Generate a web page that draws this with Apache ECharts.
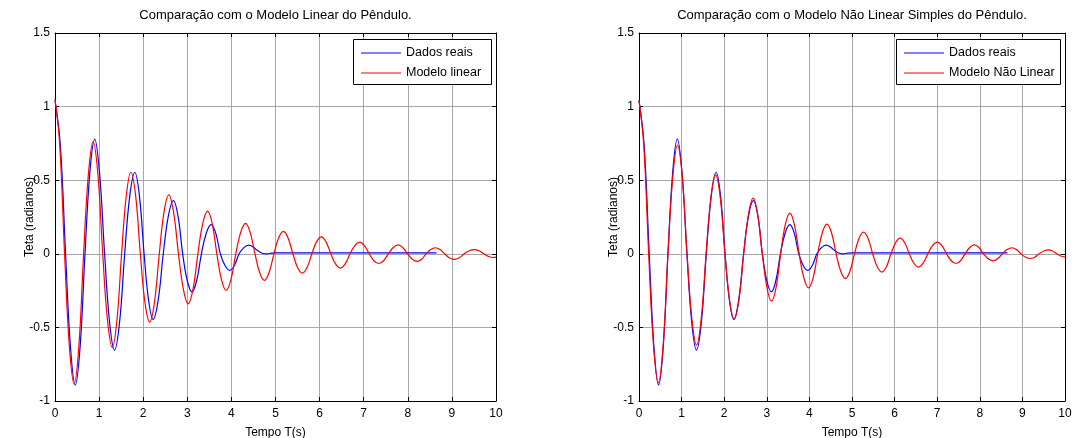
<!DOCTYPE html>
<html>
<head>
<meta charset="utf-8">
<script src="https://cdn.jsdelivr.net/npm/echarts@6/dist/echarts.min.js"></script>
<style>
html,body{margin:0;padding:0;background:#fff;}
#chart{width:1072px;height:438px;}
</style>
</head>
<body>
<div id="chart"></div>
<script>
// ---- Data ----
var xTicks = [0,1,2,3,4,5,6,7,8,9,10];
var yTicks = [-1,-0.5,0,0.5,1,1.5];

var tituloLinear = 'Comparação com o Modelo Linear do Pêndulo.';
var tituloNaoLinear = 'Comparação com o Modelo Não Linear Simples do Pêndulo.';
var nomeReal = 'Dados reais';
var nomeLinear = 'Modelo linear';
var nomeNaoLinear = 'Modelo Não Linear';
var rotuloX = 'Tempo T(s)';
var rotuloY = 'Teta (radianos)';

// Measured data (blue) - same in both panels
var tempoReal = [0,0.12,0.24,0.35,0.46,0.57,0.68,0.79,0.90,1.01,1.125,1.237,1.35,1.465,1.58,1.695,1.81,1.915,2.02,2.122,2.225,2.34,2.455,2.57,2.685,2.79,2.895,3.0,3.105,3.212,3.32,3.43,3.54,3.645,3.75,3.855,3.96,4.068,4.175,4.283,4.39,4.5,4.6,4.7,4.8,4.9,5.0,8.65];
var tetaReal  = [1.04,0.74,0,-0.63,-0.892,-0.63,0,0.55,0.779,0.55,0,-0.463,-0.655,-0.463,0,0.392,0.554,0.392,0,-0.315,-0.446,-0.315,0,0.256,0.362,0.256,0,-0.183,-0.259,-0.183,0,0.14,0.198,0.14,0,-0.08,-0.113,-0.08,0,0.042,0.059,0.045,0.02,0.004,0.0,0.004,0.006,0.006];

// Linear model (red, left panel)
var tempoLinear = [0,0.108,0.217,0.325,0.434,0.542,0.649,0.757,0.864,0.973,1.082,1.19,1.30,1.405,1.51,1.615,1.72,1.83,1.935,2.04,2.15,2.255,2.365,2.47,2.58,2.69,2.80,2.91,3.02,3.13,3.24,3.35,3.46,3.565,3.67,3.775,3.88,3.99,4.10,4.21,4.32,4.425,4.535,4.64,4.75,4.855,4.965,5.07,5.18,5.285,5.395,5.50,5.61,5.715,5.825,5.93,6.04,6.145,6.255,6.36,6.47,6.58,6.69,6.80,6.91,7.015,7.125,7.23,7.34,7.45,7.56,7.67,7.78,7.885,7.995,8.10,8.21,8.315,8.415,8.52,8.62,8.73,8.835,8.94,9.05,9.165,9.28,9.395,9.51,9.615,9.725,9.83,9.94,10];
var tetaLinear  = [1.05,0.74,0,-0.625,-0.885,-0.625,0,0.54,0.761,0.54,0,-0.45,-0.637,-0.45,0,0.39,0.554,0.39,0,-0.33,-0.464,-0.33,0,0.28,0.40,0.28,0,-0.24,-0.34,-0.24,0,0.205,0.29,0.205,0,-0.175,-0.248,-0.175,0,0.146,0.207,0.146,0,-0.127,-0.18,-0.127,0,0.107,0.152,0.107,0,-0.093,-0.131,-0.093,0,0.081,0.115,0.081,0,-0.069,-0.097,-0.069,0,0.056,0.079,0.056,0,-0.047,-0.066,-0.047,0,0.043,0.061,0.043,0,-0.037,-0.052,-0.037,0,0.029,0.041,0.029,0,-0.027,-0.038,-0.027,0,0.021,0.029,0.021,0,-0.018,-0.025,-0.023];

// Simple non-linear model (red, right panel)
var tempoNaoLinear = [0,0.113,0.227,0.34,0.454,0.567,0.68,0.793,0.906,1.017,1.128,1.24,1.35,1.462,1.575,1.687,1.80,1.909,2.018,2.126,2.235,2.346,2.458,2.569,2.68,2.787,2.895,3.003,3.11,3.218,3.325,3.433,3.54,3.65,3.76,3.87,3.98,4.088,4.195,4.303,4.41,4.519,4.628,4.736,4.845,4.952,5.058,5.164,5.27,5.378,5.485,5.593,5.70,5.808,5.915,6.023,6.13,6.238,6.345,6.453,6.56,6.67,6.78,6.89,7.0,7.11,7.22,7.33,7.44,7.548,7.655,7.763,7.87,7.98,8.09,8.2,8.31,8.42,8.53,8.64,8.75,8.858,8.965,9.073,9.18,9.288,9.395,9.503,9.61,9.708,9.805,9.9,10];
var tetaNaoLinear  = [1.04,0.735,0,-0.62,-0.878,-0.62,0,0.522,0.739,0.522,0,-0.438,-0.62,-0.438,0,0.379,0.536,0.379,0,-0.314,-0.444,-0.314,0,0.267,0.378,0.267,0,-0.228,-0.322,-0.228,0,0.196,0.277,0.196,0,-0.164,-0.232,-0.164,0,0.143,0.202,0.143,0,-0.119,-0.168,-0.119,0,0.104,0.147,0.104,0,-0.088,-0.124,-0.088,0,0.075,0.106,0.075,0,-0.064,-0.09,-0.064,0,0.056,0.079,0.056,0,-0.047,-0.066,-0.047,0,0.043,0.061,0.043,0,-0.034,-0.048,-0.034,0,0.029,0.041,0.029,0,-0.023,-0.032,-0.023,0,0.019,0.027,0.019,0,-0.015,-0.022];

function zip(a, b) { return a.map(function (t, i) { return [t, b[i]]; }); }

var FONT = '"Liberation Sans", Arial, Helvetica, sans-serif';
var BLUE = '#0000ff', RED = '#ff0000';

var grids = [
  {left: 55, top: 33, width: 441, height: 368, containLabel: false, outerBoundsMode: 'none'},
  {left: 639, top: 33, width: 426, height: 368, containLabel: false, outerBoundsMode: 'none'}
];

function xAxes(gi) {
  return [{
    type: 'value', gridIndex: gi, position: 'bottom', min: xTicks[0], max: xTicks[xTicks.length-1], interval: 1,
    axisLine: {show: true, onZero: false, lineStyle: {color: '#000', width: 1}},
    axisTick: {show: true, inside: true, length: 4, lineStyle: {color: '#000'}},
    axisLabel: {color: '#000', fontSize: 12, fontFamily: FONT, margin: 7},
    splitLine: {show: true, lineStyle: {color: '#a8a8a8', width: 1}},
    name: rotuloX, nameLocation: 'middle', nameGap: 26, nameMoveOverlap: false,
    nameTextStyle: {color: '#000', fontSize: 12, fontFamily: FONT}
  }, {
    type: 'value', gridIndex: gi, position: 'top', min: xTicks[0], max: xTicks[xTicks.length-1], interval: 1,
    axisLine: {show: true, onZero: false, lineStyle: {color: '#000', width: 1}},
    axisTick: {show: true, inside: true, length: 4, lineStyle: {color: '#000'}},
    axisLabel: {show: false}, splitLine: {show: false}
  }];
}
function yAxes(gi) {
  return [{
    type: 'value', gridIndex: gi, position: 'left', min: yTicks[0], max: yTicks[yTicks.length-1], interval: 0.5,
    axisLine: {show: true, onZero: false, lineStyle: {color: '#000', width: 1}},
    axisTick: {show: true, inside: true, length: 4, lineStyle: {color: '#000'}},
    axisLabel: {color: '#000', fontSize: 12, fontFamily: FONT, margin: 5},
    splitLine: {show: true, lineStyle: {color: '#a8a8a8', width: 1}},
    name: rotuloY, nameLocation: 'middle', nameGap: 19, nameRotate: 90, nameMoveOverlap: false,
    nameTextStyle: {color: '#000', fontSize: 12, fontFamily: FONT}
  }, {
    type: 'value', gridIndex: gi, position: 'right', min: yTicks[0], max: yTicks[yTicks.length-1], interval: 0.5,
    axisLine: {show: true, onZero: false, lineStyle: {color: '#000', width: 1}},
    axisTick: {show: true, inside: true, length: 4, lineStyle: {color: '#000'}},
    axisLabel: {show: false}, splitLine: {show: false}
  }];
}

function lineSeries(name, data, color, xi, yi) {
  return {
    type: 'line', name: name, data: data, xAxisIndex: xi, yAxisIndex: yi,
    showSymbol: false, symbol: 'none', smooth: 0.4, animation: false,
    lineStyle: {color: color, width: 1.2}, itemStyle: {color: color}, z: 3
  };
}

var legendCommon = {
  orient: 'vertical', padding: 0, itemWidth: 40, itemHeight: 1, itemGap: 6,
  icon: 'rect', selectedMode: false, z: 12,
  textStyle: {color: '#000', fontSize: 12.5, fontFamily: FONT, lineHeight: 14}
};

var option = {
  backgroundColor: '#fff',
  animation: false,
  title: [
    {text: tituloLinear, left: 275.5, top: 9, textAlign: 'center', padding: 0,
     textStyle: {color: '#000', fontSize: 13, fontWeight: 'normal', fontFamily: FONT}},
    {text: tituloNaoLinear, left: 852, top: 9, textAlign: 'center', padding: 0,
     textStyle: {color: '#000', fontSize: 13, fontWeight: 'normal', fontFamily: FONT}}
  ],
  grid: grids,
  xAxis: xAxes(0).concat(xAxes(1)),
  yAxis: yAxes(0).concat(yAxes(1)),
  graphic: [
    {type: 'rect', z: 10, shape: {x: 353.5, y: 39.5, width: 138, height: 45},
     style: {fill: '#fff', stroke: '#000', lineWidth: 1}},
    {type: 'rect', z: 10, shape: {x: 896.5, y: 39.5, width: 164, height: 45},
     style: {fill: '#fff', stroke: '#000', lineWidth: 1}}
  ],
  legend: [
    Object.assign({}, legendCommon, {left: 361, top: 46, data: [nomeReal, nomeLinear]}),
    Object.assign({}, legendCommon, {left: 904, top: 46, data: [nomeReal, nomeNaoLinear]})
  ],
  series: [
    lineSeries(nomeReal, zip(tempoReal, tetaReal), BLUE, 0, 0),
    lineSeries(nomeLinear, zip(tempoLinear, tetaLinear), RED, 0, 0),
    lineSeries(nomeReal, zip(tempoReal, tetaReal), BLUE, 2, 2),
    lineSeries(nomeNaoLinear, zip(tempoNaoLinear, tetaNaoLinear), RED, 2, 2)
  ]
};

var chart = echarts.init(document.getElementById('chart'), null, {renderer: 'canvas'});
chart.setOption(option);
</script>
</body>
</html>
